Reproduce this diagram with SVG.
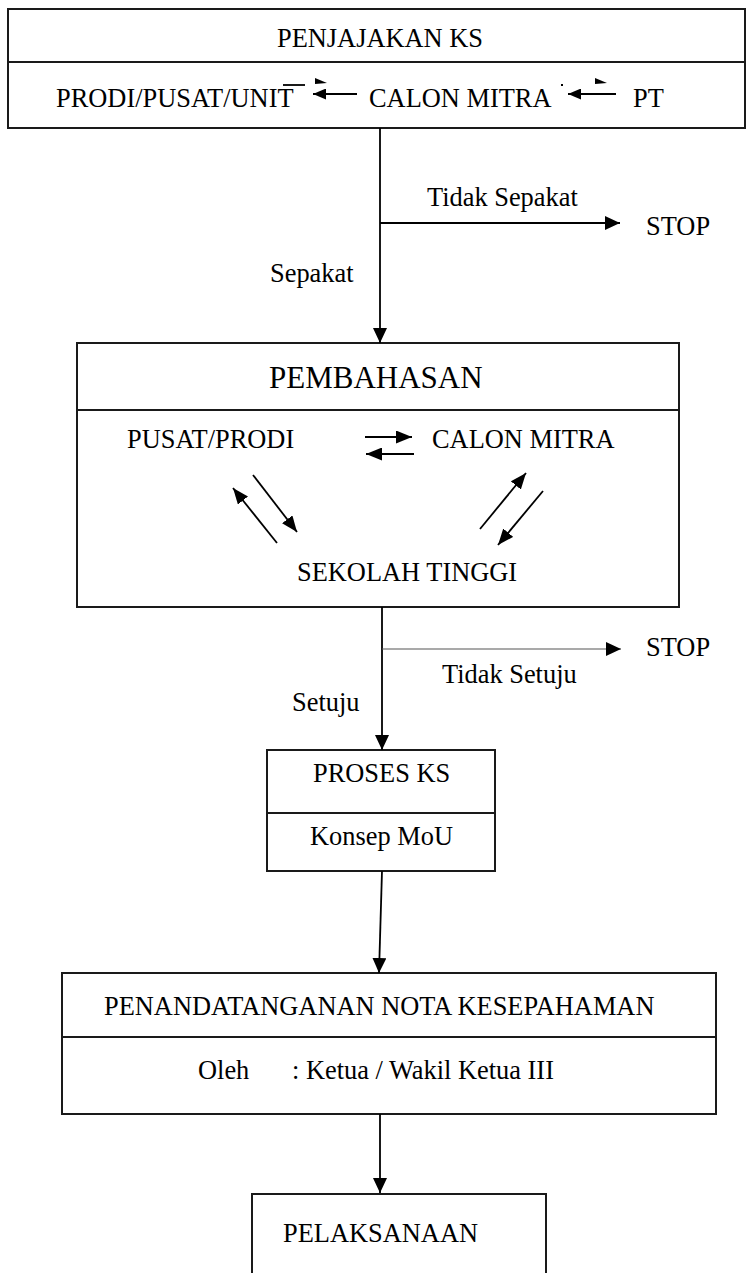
<svg xmlns="http://www.w3.org/2000/svg" width="747" height="1273" viewBox="0 0 747 1273">
<style>
text{font-family:"Liberation Serif","Times New Roman",serif;font-size:26.4px;fill:#000}
.box{fill:#fff;stroke:#1a1a1a;stroke-width:2}
.div{stroke:#1a1a1a;stroke-width:2}
.ln{fill:none;stroke:#000;stroke-width:1.8}
.thin{fill:none;stroke:#555;stroke-width:1.2}
</style>
<defs>
<marker id="ah" markerUnits="userSpaceOnUse" markerWidth="16" markerHeight="14" refX="15" refY="7" orient="auto"><path d="M0,0 L15,7 L0,14 z" fill="#000"/></marker>
<marker id="ahm" markerUnits="userSpaceOnUse" markerWidth="17" markerHeight="13" refX="16" refY="6.5" orient="auto"><path d="M0,0 L16,6.5 L0,13 z" fill="#000"/></marker>
<marker id="ahs" markerUnits="userSpaceOnUse" markerWidth="14" markerHeight="11" refX="13" refY="5.5" orient="auto"><path d="M0,0 L13,5.5 L0,11 z" fill="#000"/></marker>
</defs>
<rect width="747" height="1273" fill="#fff"/>

<g id="penjajakan">
<rect class="box" x="8" y="9" width="737" height="119"/>
<line class="div" x1="8" y1="62" x2="745" y2="62"/>
<text x="380" y="47" text-anchor="middle">PENJAJAKAN KS</text>
<text x="56" y="107">PRODI/PUSAT/UNIT</text>
<line x1="283" y1="85" x2="305" y2="85" stroke="#000" stroke-width="1.8"/>
<text x="369" y="107">CALON MITRA</text>
<text x="633" y="107">PT</text>
<path class="ln" d="M357,94 H313" marker-end="url(#ahs)"/>
<path d="M315,78 L327,83 L315,84 z" fill="#000"/>
<path class="ln" d="M616,94 H568" marker-end="url(#ahs)"/>
<path d="M595,78 L607,83 L595,84 z" fill="#000"/>
<rect x="561" y="84" width="2" height="2" fill="#000"/>
</g>

<g id="stop1">
<text x="646" y="235">STOP</text>
</g>

<g id="pembahasan">
<rect class="box" x="77" y="343" width="602" height="264"/>
<line class="div" x1="77" y1="410" x2="679" y2="410"/>
<text x="269" y="388" style="font-size:31px">PEMBAHASAN</text>
<text x="127" y="448">PUSAT/PRODI</text>
<text x="432" y="448">CALON MITRA</text>
<text x="297" y="581">SEKOLAH TINGGI</text>
<path class="ln" d="M365,437 H412" marker-end="url(#ahm)"/>
<path class="ln" d="M414,454 H366" marker-end="url(#ahm)"/>
<path class="ln" d="M277,543 L233,488" marker-end="url(#ahm)"/>
<path class="ln" d="M253,475 L297,532" marker-end="url(#ahm)"/>
<path class="ln" d="M480,529 L526,473" marker-end="url(#ahm)"/>
<path class="ln" d="M543,491 L498,545" marker-end="url(#ahm)"/>
</g>

<g id="stop2">
<text x="646" y="656">STOP</text>
</g>

<g id="proses">
<rect class="box" x="267" y="750" width="228" height="121"/>
<line class="div" x1="267" y1="813" x2="495" y2="813"/>
<text x="313" y="782">PROSES KS</text>
<text x="310" y="845">Konsep MoU</text>
</g>

<g id="nota">
<rect class="box" x="62" y="973" width="654" height="141"/>
<line class="div" x1="62" y1="1037" x2="716" y2="1037"/>
<text x="104" y="1015">PENANDATANGANAN NOTA KESEPAHAMAN</text>
<text x="198" y="1079">Oleh</text>
<text x="292" y="1079">: Ketua / Wakil Ketua III</text>
</g>

<g id="pelaksanaan">
<rect class="box" x="252" y="1194" width="294" height="120"/>
<text x="283" y="1242">PELAKSANAAN</text>
</g>

<g id="connectors">
<path class="ln" d="M380,128 V343" marker-end="url(#ah)"/>
<path class="ln" d="M380,223 H620" marker-end="url(#ah)"/>
<text x="427" y="206">Tidak Sepakat</text>
<text x="270" y="282">Sepakat</text>
<path class="ln" d="M382,607 V750" marker-end="url(#ah)"/>
<path class="thin" d="M382,649 H621" marker-end="url(#ah)"/>
<text x="442" y="683">Tidak Setuju</text>
<text x="292" y="711">Setuju</text>
<path class="ln" d="M382,871 L379,973" marker-end="url(#ah)"/>
<path class="ln" d="M380,1114 V1193" marker-end="url(#ah)"/>
</g>
</svg>
